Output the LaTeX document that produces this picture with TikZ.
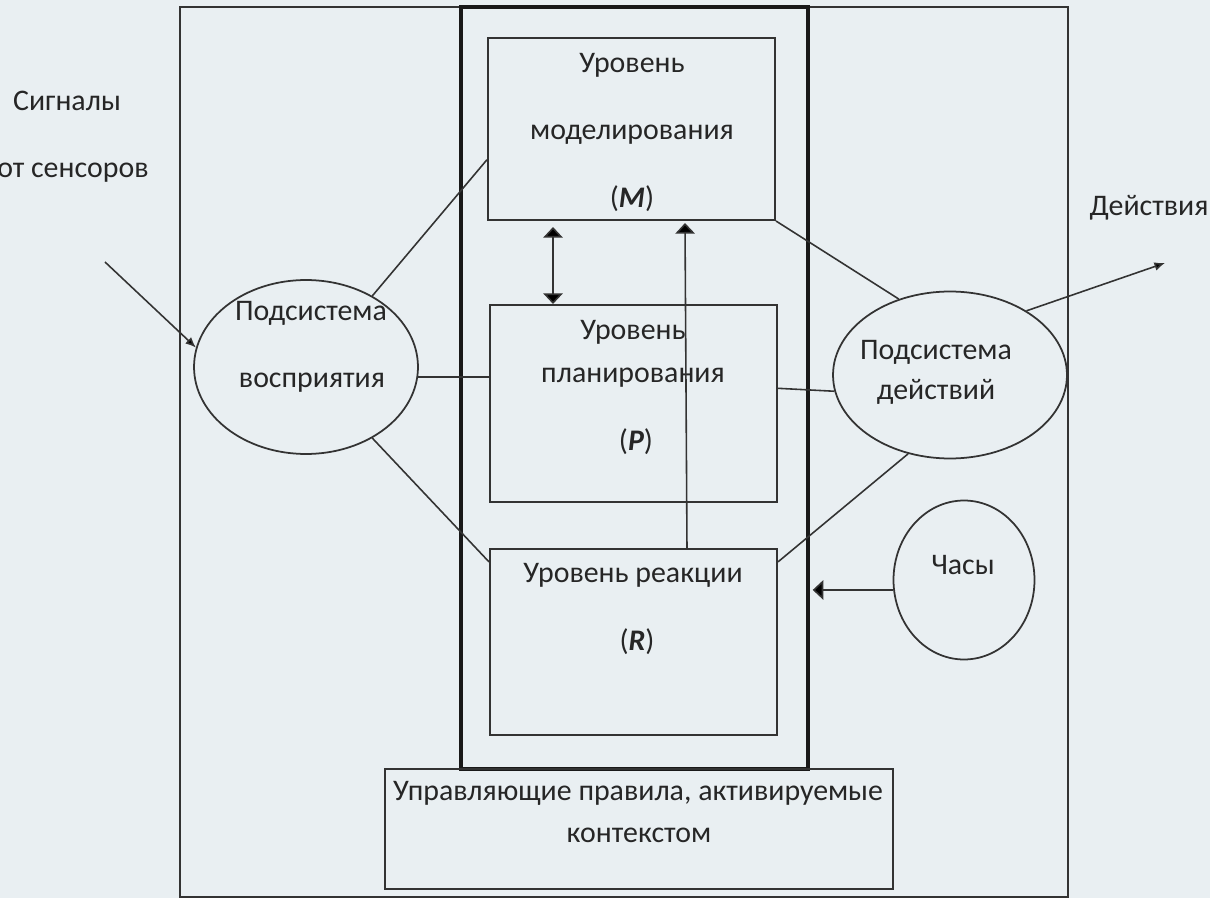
\documentclass[tikz,border=0pt]{standalone}
\usepackage{fontspec}
\setmainfont{Carlito}
\usepackage{tikz}
\usetikzlibrary{arrows.meta,shapes.geometric}
\definecolor{bg}{HTML}{E9EFF2}
\definecolor{ink}{HTML}{333333}
\newcommand{\lvlmark}[1]{(\textbf{\textit{#1}})}

\begin{document}
\begin{tikzpicture}[x=0.02cm,y=-0.02cm,
  every node/.style={font=\fontsize{17}{20}\selectfont,text=black!85},
  txt/.style={inner sep=0pt,text height=2.1ex,text depth=.3ex},
  frame/.style={draw=ink,line width=1.2pt,inner sep=0pt},
  corebox/.style={draw=black!90,line width=2.4pt,inner sep=0pt},
  levelbox/.style={draw=ink,line width=1.2pt,inner sep=0pt,minimum width=5.74cm},
  oval/.style={draw=ink,line width=1pt,ellipse,inner sep=0pt},
  link/.style={draw=ink,line width=0.9pt},
  bigtip/.style={-{Triangle[length=6pt,width=11pt]}},
  twotip/.style={{Triangle[length=6pt,width=11pt]}-{Triangle[length=6pt,width=11pt]}},
  smalltip/.style={-{Latex[length=6pt,width=5pt]}}]
\fill[bg] (0,0) rectangle (1210,898);
\useasboundingbox (0,0) rectangle (1210,898);

\node[frame,minimum width=17.76cm,minimum height=17.8cm] (outer) at (624,452) {};
\node[corebox,minimum width=6.94cm,minimum height=15.24cm] (core) at (634.5,388) {};
\node[levelbox,minimum height=3.64cm] (M) at (631.5,129) {};
\node[levelbox,minimum height=3.94cm] (P) at (633.5,403.5) {};
\node[levelbox,minimum height=3.72cm] (R) at (633.5,642) {};
\node[frame,minimum width=10.16cm,minimum height=2.4cm] (rules) at (639,829) {};
\node[oval,minimum width=4.48cm,minimum height=3.48cm] (perc) at (306,367) {};
\node[oval,minimum width=4.68cm,minimum height=3.34cm] (act) at (950,375) {};
\node[oval,minimum width=2.82cm,minimum height=3.18cm] (clock) at (964,580) {};
\coordinate (sensors) at (105,262);
\coordinate (deeds) at (1165,263);

\node[txt] (sig1) at (67,103) {Сигналы};
\node[txt] (sig2) at (73,170) {от сенсоров};
\node[txt] (out) at (1149,208) {Действия};
\node[txt] (perc1) at (311,313) {Подсистема};
\node[txt] (perc2) at (312,380) {восприятия};
\node[txt] (act1) at (936,352) {Подсистема};
\node[txt] (act2) at (936,392) {действий};
\node[txt] (clock1) at (963,567) {Часы};
\node[txt] (M1) at (632,65) {Уровень};
\node[txt] (M2) at (632,132) {моделирования};
\node[txt] (M3) at (632,200) {\lvlmark{M}};
\node[txt] (P1) at (633,332) {Уровень};
\node[txt] (P2) at (633,375) {планирования};
\node[txt] (P3) at (636,443) {\lvlmark{P}};
\node[txt] (R1) at (633,575) {Уровень реакции};
\node[txt] (R2) at (637,643) {\lvlmark{R}};
\node[txt] (rules1) at (638,793) {Управляющие правила, активируемые};
\node[txt] (rules2) at (639,835) {контекстом};

\path[link]

(sensors)
edge [smalltip]
(perc.170)

(perc.47)
edge
(M.192)

(perc.-5)
edge
(perc.-5 -| P.west)

(perc.-47)
edge
(R.151)

(M.south east)
edge
(act.124)

(P.6)
edge
(act.188)

(R.29)
edge
(act.242)

(act.40)
edge [smalltip]
(deeds)

([xshift=-1.57cm,yshift=-0.12cm]M.south)
edge [twotip]
([xshift=-1.61cm]P.north)

([xshift=1.07cm]R.north)
edge [bigtip]
([xshift=1.07cm,yshift=-0.04cm]M.south)

(clock.188)
edge [bigtip,shorten >=1.5pt]
(clock.188 -| core.east)

;
\end{tikzpicture}
\end{document}
